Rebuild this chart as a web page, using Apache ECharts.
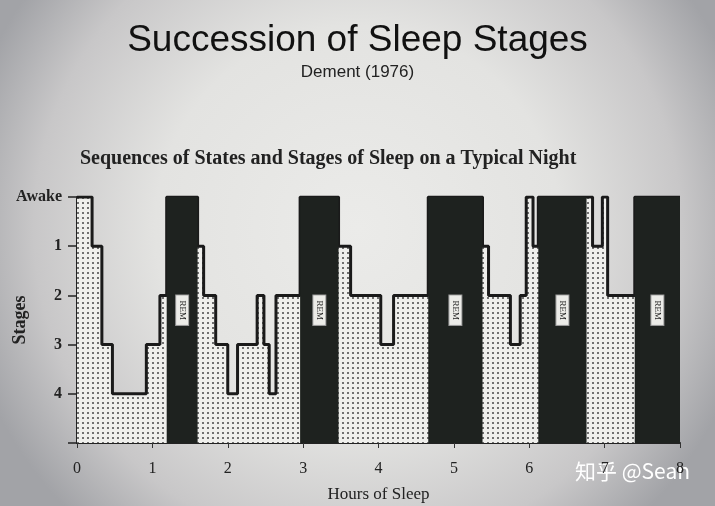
<!DOCTYPE html>
<html>
<head>
<meta charset="utf-8">
<script src="https://cdn.jsdelivr.net/npm/echarts@6/dist/echarts.min.js"></script>
<style>
html,body{margin:0;padding:0;background:#dcdcda;}
#chart{width:715px;height:506px;}
</style>
</head>
<body>
<div id="chart"></div>
<script>
// Hypnogram: segment start times (hours) and stage at each segment ('R' = REM)
var segStarts = [0, 0.2, 0.33, 0.47, 0.92, 1.1, 1.19, 1.6, 1.68, 1.84, 2.0, 2.13, 2.39, 2.48, 2.55, 2.64, 2.96, 3.47, 3.63, 4.03, 4.2, 4.66, 5.38, 5.46, 5.75, 5.88, 5.96, 6.05, 6.12, 6.76, 6.84, 6.97, 7.04, 7.4];
var segStages = [0, 1, 3, 4, 3, 2, 'R', 1, 2, 3, 4, 3, 2, 3, 4, 2, 'R', 1, 2, 3, 2, 'R', 1, 2, 3, 2, 0, 1, 'R', 0, 1, 0, 2, 'R'];
var endTime = 8.0;
var stageLabels = ['Awake', '1', '2', '3', '4'];
var xTicks = ['0', '1', '2', '3', '4', '5', '6', '7', '8'];

// line data (REM drawn as a black band on top)
var lineData = [];
for (var i = 0; i < segStarts.length; i++) {
  var s = segStages[i] === 'R' ? 0 : segStages[i];
  lineData.push([segStarts[i], s]);
}
lineData.push([endTime, lineData[lineData.length - 1][1]]);

var remData = [];
for (var j = 0; j < segStarts.length; j++) {
  if (segStages[j] === 'R') {
    var e = j + 1 < segStarts.length ? segStarts[j + 1] : endTime;
    remData.push([segStarts[j], e]);
  }
}

// dotted fill pattern
var pc = document.createElement('canvas');
pc.width = 5; pc.height = 5;
var pctx = pc.getContext('2d');
pctx.fillStyle = '#efefec';
pctx.fillRect(0, 0, 5, 5);
pctx.fillStyle = '#707070';
pctx.fillRect(2, 2, 2, 2);

var chart = echarts.init(document.getElementById('chart'));
var serif = '"Liberation Serif", "DejaVu Serif", serif';
var option = {
  backgroundColor: {
    type: 'radial', x: 0.5, y: 0.45, r: 0.8,
    colorStops: [
      {offset: 0, color: '#ebebe9'},
      {offset: 0.5, color: '#e3e3e1'},
      {offset: 0.8, color: '#c8c7c8'},
      {offset: 1, color: '#a2a3a7'}
    ]
  },
  animation: false,
  graphic: [
    {type: 'text', left: 'center', top: 22, style: {text: 'Succession of Sleep Stages', font: '37px "Liberation Sans", Arial, sans-serif', fill: '#111'}},
    {type: 'text', left: 'center', top: 64, style: {text: 'Dement (1976)', font: '17px "Liberation Sans", Arial, sans-serif', fill: '#222'}},
    {type: 'text', x: 80, y: 149, style: {text: 'Sequences of States and Stages of Sleep on a Typical Night', font: 'bold 20px ' + serif, fill: '#222'}},
    {type: 'text', x: 575, y: 461, style: {text: '知乎 @Sean', font: '21px "Noto Sans CJK SC", sans-serif', fill: '#ffffff', shadowColor: 'rgba(0,0,0,0.35)', shadowBlur: 3}}
  ],
  grid: {left: 77, right: 35, top: 197, bottom: 63, outerBoundsMode: 'none', containLabel: false},
  xAxis: {
    type: 'value', min: 0, max: 8, interval: 1,
    axisLine: {onZero: false, lineStyle: {color: '#222', width: 2}},
    axisTick: {length: 5, lineStyle: {color: '#333'}},
    splitLine: {show: false},
    axisLabel: {margin: 18, color: '#222', fontFamily: 'Liberation Serif', fontSize: 16, formatter: function (v) { return xTicks[v]; }},
    name: 'Hours of Sleep', nameLocation: 'middle', nameGap: 43, nameMoveOverlap: false,
    nameTextStyle: {fontFamily: 'Liberation Serif', fontSize: 17, color: '#222'}
  },
  yAxis: {
    type: 'value', inverse: true, min: 0, max: 5, interval: 1,
    axisLine: {show: true, onZero: false, lineStyle: {color: '#222', width: 2}},
    axisTick: {show: true, length: 9, lineStyle: {color: '#222', width: 1.5}},
    splitLine: {show: false},
    axisLabel: {margin: 15, color: '#222', fontFamily: 'Liberation Serif', fontWeight: 'bold', fontSize: 16,
      formatter: function (v) { return v < stageLabels.length ? stageLabels[v] : ''; }},
    name: 'Stages', nameLocation: 'middle', nameGap: 48, nameRotate: 90, nameMoveOverlap: false,
    nameTextStyle: {fontFamily: 'Liberation Serif', fontWeight: 'bold', fontSize: 18, color: '#222'}
  },
  series: [
    {
      type: 'line', step: 'end', data: lineData, symbol: 'none', z: 2,
      lineStyle: {color: '#1a1a1a', width: 3},
      areaStyle: {origin: 'end', color: {image: pc, repeat: 'repeat'}, opacity: 1}
    },
    {
      type: 'custom', z: 5, data: remData,
      renderItem: function (params, api) {
        var p0 = api.coord([api.value(0), 0]);
        var p1 = api.coord([api.value(1), 5]);
        var lab = api.coord([(api.value(0) + api.value(1)) / 2, 2.3]);
        return {
          type: 'group',
          children: [
            {type: 'rect', shape: {x: p0[0], y: p0[1], width: p1[0] - p0[0], height: p1[1] - p0[1]}, style: {fill: '#1e221f'}},
            {type: 'text', x: lab[0], y: lab[1], rotation: -Math.PI / 2,
              style: {text: 'REM', font: '9px ' + serif, fill: '#222', align: 'center', verticalAlign: 'middle',
                backgroundColor: '#ecece8', borderColor: '#999', borderWidth: 1, padding: [2, 5, 1, 5]}}
          ]
        };
      }
    }
  ]
};
chart.setOption(option);
</script>
</body>
</html>
